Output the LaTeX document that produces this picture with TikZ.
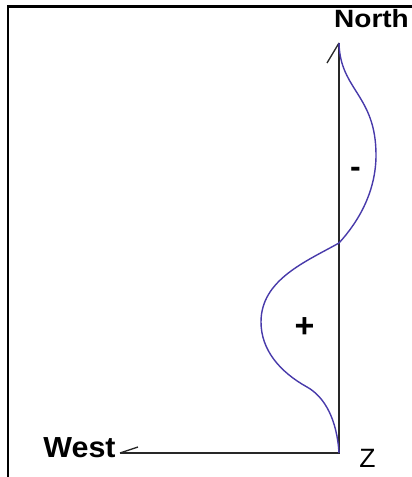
\documentclass[tikz,border=0pt]{standalone}
\usepackage{fontspec}
\setmainfont{Liberation Sans}
\definecolor{curveblue}{RGB}{72,58,170}
\definecolor{axisgrey}{RGB}{40,40,40}
\tikzset{
  frameline/.style={line width=2.5pt, black},
  axisline/.style={line width=1.3pt, axisgrey},
  wave/.style={line width=1.4pt, curveblue},
  boldlabel/.style={inner sep=0pt, anchor=base, font=\bfseries},
}
\begin{document}
\begin{tikzpicture}[x=1pt,y=-1pt]
\useasboundingbox (0,0) rectangle (412,477);
% frame
\draw[frameline] (8,477) -- (8,6.5) -- (412,6.5);
% axes
\coordinate (O) at (339,453);
\coordinate (N) at (339,43);
\coordinate (W) at (120,453);
\coordinate (C) at (339,243);
\draw[axisline] (N) -- (O) -- (W);
\draw[axisline] (N) -- ++(-12,20);
\draw[axisline] (W) -- ++(18,-6);
% wave
\draw[wave] (N) .. controls (340,90) and (376,95) .. (376,155)
  .. controls (376,190) and (360,220) .. (C)
  .. controls (305,262) and (261,280) .. (261,322)
  .. controls (261,350) and (280,372) .. (307,387)
  .. controls (325,397) and (337,420) .. (O);
% labels
\node[boldlabel, xscale=1.12] (north) at (371.5,27) {\fontsize{25}{27}\selectfont North};
\node[boldlabel, xscale=1.05] (west) at (79.5,457) {\fontsize{29}{31}\selectfont West};
\node[inner sep=0pt, anchor=base] (z) at (367.5,467) {\fontsize{26.5}{28}\selectfont Z};
\node[boldlabel] (minus) at (355.5,177) {\fontsize{32}{34}\selectfont -};
\node[boldlabel] (plus) at (304.5,337) {\fontsize{34}{36}\selectfont +};
\end{tikzpicture}
\end{document}
